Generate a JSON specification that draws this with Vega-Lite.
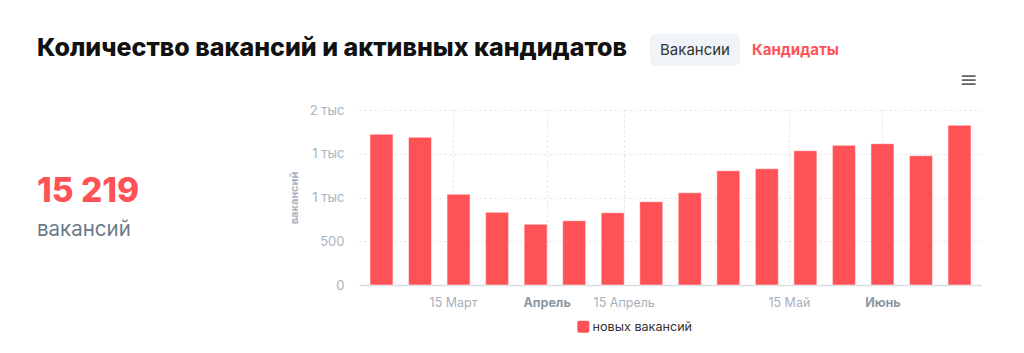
{
  "$schema": "https://vega.github.io/schema/vega-lite/v6.json",
  "padding": 0,
  "background": "#ffffff",
  "config": {
    "view": {"stroke": null},
    "font": "Inter"
  },
  "spacing": 0,
  "bounds": "full",
  "vconcat": [
    {
      "spacing": 0,
      "bounds": "full",
      "hconcat": [
        {
          "width": 650,
          "height": 103.5,
          "data": {"values": []},
          "mark": "text",
          "title": {
            "text": "Количество вакансий и активных кандидатов",
            "anchor": "start",
            "frame": "group",
            "dx": 37,
            "offset": -61,
            "font": "Inter",
            "fontSize": 25,
            "fontWeight": 800,
            "color": "#111111"
          }
        },
        {
          "spacing": 0,
          "bounds": "full",
          "vconcat": [
            {"width": 90, "height": 34, "data": {"values": []}, "mark": "text"},
            {
              "width": 90,
              "height": 32,
              "view": {"fill": "#f0f3f7", "cornerRadius": 6, "stroke": null},
              "data": {"values": []},
              "mark": "text",
              "title": {
                "text": "Вакансии",
                "anchor": "middle",
                "frame": "group",
                "offset": -24.2,
                "font": "Inter",
                "fontSize": 15,
                "fontWeight": 400,
                "color": "#333333"
              }
            }
          ]
        },
        {
          "width": 100,
          "height": 60,
          "data": {"values": []},
          "mark": "text",
          "title": {
            "text": "Кандидаты",
            "anchor": "start",
            "frame": "group",
            "dx": 12,
            "offset": -58.2,
            "font": "Inter",
            "fontSize": 15,
            "fontWeight": 700,
            "color": "#ff5257"
          }
        },
        {
          "width": 140,
          "height": 100,
          "data": {"values": []},
          "mark": "text",
          "title": {
            "text": "≡",
            "anchor": "end",
            "frame": "group",
            "dx": -2,
            "offset": -91.6,
            "font": "DejaVu Sans",
            "fontSize": 22,
            "fontWeight": 400,
            "color": "#666666"
          }
        }
      ]
    },
    {
      "spacing": 0,
      "bounds": "full",
      "hconcat": [
        {
          "width": 288,
          "height": 170,
          "data": {"values": []},
          "mark": "text",
          "title": {
            "text": "15 219",
            "subtitle": "вакансий",
            "anchor": "start",
            "frame": "group",
            "dx": 37,
            "offset": -131.7,
            "subtitlePadding": 11,
            "font": "Inter",
            "fontSize": 33.5,
            "fontWeight": 800,
            "color": "#ff5257",
            "subtitleFont": "Inter",
            "subtitleFontSize": 20.5,
            "subtitleFontWeight": 400,
            "subtitleColor": "#6b7a89"
          }
        },
        {
          "width": 623,
          "height": 175,
          "data": {
            "values": [
              {"week": "2021-03-02", "count": 1722},
              {"week": "2021-03-09", "count": 1688},
              {"week": "2021-03-16", "count": 1037},
              {"week": "2021-03-23", "count": 831},
              {"week": "2021-03-30", "count": 694},
              {"week": "2021-04-06", "count": 735},
              {"week": "2021-04-13", "count": 826},
              {"week": "2021-04-20", "count": 952},
              {"week": "2021-04-27", "count": 1055},
              {"week": "2021-05-04", "count": 1306},
              {"week": "2021-05-11", "count": 1329},
              {"week": "2021-05-18", "count": 1535},
              {"week": "2021-05-25", "count": 1596},
              {"week": "2021-06-01", "count": 1615},
              {"week": "2021-06-08", "count": 1478},
              {"week": "2021-06-15", "count": 1825}
            ]
          },
          "mark": {
            "type": "bar",
            "width": 23,
            "stroke": "#ffffff",
            "strokeOpacity": 0.5,
            "strokeWidth": 1
          },
          "encoding": {
            "x": {
              "field": "week",
              "type": "temporal",
              "scale": {
                "type": "utc",
                "padding": 0,
                "domain": [
                  {"year": 2021, "month": 2, "date": 25, "hours": 22, "utc": true},
                  {"year": 2021, "month": 6, "date": 19, "hours": 2, "utc": true}
                ]
              },
              "axis": {
                "title": null,
                "values": [
                  {"year": 2021, "month": 3, "date": 15, "utc": true},
                  {"year": 2021, "month": 4, "date": 1, "utc": true},
                  {"year": 2021, "month": 4, "date": 15, "utc": true},
                  {"year": 2021, "month": 5, "date": 15, "utc": true},
                  {"year": 2021, "month": 6, "date": 1, "utc": true}
                ],
                "labelExpr": "(utcdate(datum.value) == 1 ? '' : utcdate(datum.value) + ' ') + ['Январь','Февраль','Март','Апрель','Май','Июнь','Июль'][utcmonth(datum.value)]",
                "labelFontWeight": {"condition": {"test": "utcdate(datum.value) == 1", "value": "bold"}, "value": "normal"},
                "labelColor": {"condition": {"test": "utcdate(datum.value) == 1", "value": "#8d97a1"}, "value": "#a6b0ba"},
                "labelFont": "Inter",
                "labelFontSize": 12.5,
                "labelPadding": 11,
                "labelFlush": false,
                "labelOverlap": false,
                "ticks": false,
                "domainColor": "#d6dde5",
                "domainWidth": 1.5,
                "grid": true,
                "gridColor": "#e2e2e2",
                "gridDash": [2, 3],
                "gridWidth": 1
              }
            },
            "y": {
              "field": "count",
              "type": "quantitative",
              "scale": {"domain": [0, 2000], "nice": false},
              "axis": {
                "title": "вакансий",
                "titleFont": "Inter",
                "titleFontSize": 11,
                "titleFontWeight": "bold",
                "titleColor": "#a9b3be",
                "titlePadding": 10,
                "values": [0, 500, 1000, 1500, 2000],
                "labelExpr": "datum.value >= 1000 ? floor(datum.value / 1000) + ' тыс' : datum.value",
                "labelFont": "Inter",
                "labelFontSize": 13,
                "labelColor": "#a9b3be",
                "labelPadding": 15,
                "ticks": false,
                "domain": false,
                "grid": true,
                "gridColor": "#e2e2e2",
                "gridDash": [2, 3],
                "gridWidth": 1
              }
            },
            "color": {
              "datum": "новых вакансий",
              "type": "nominal",
              "scale": {"range": ["#ff5257"]},
              "legend": {
                "title": null,
                "orient": "none",
                "legendX": 577,
                "legendY": 320.5,
                "symbolType": "M-0.7,-1H0.7Q1,-1 1,-0.7V0.7Q1,1 0.7,1H-0.7Q-1,1 -1,0.7V-0.7Q-1,-1 -0.7,-1Z",
                "symbolSize": 144,
                "symbolStrokeWidth": 0,
                "symbolOpacity": 1,
                "labelFont": "Inter",
                "labelFontSize": 12.6,
                "labelColor": "#333333",
                "labelOffset": 3,
                "padding": 0
              }
            }
          }
        }
      ]
    }
  ]
}
